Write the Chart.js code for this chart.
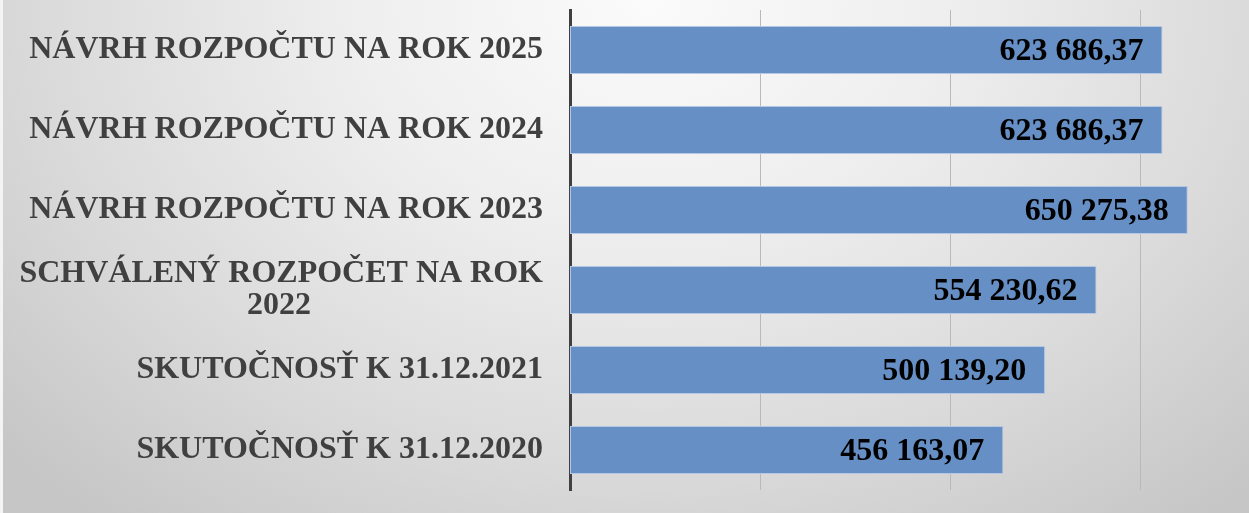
<!DOCTYPE html>
<html>
<head>
<meta charset="utf-8">
<script src="https://cdn.jsdelivr.net/npm/chart.js@4/dist/chart.umd.min.js"></script>
<style>
  html, body { margin: 0; padding: 0; }
  body {
    width: 1249px; height: 513px; overflow: hidden;
    background: radial-gradient(ellipse 70% 130% at 52% 0%, #fbfbfb 0%, #eeeeee 35%, #dadada 70%, #c6c6c6 100%);
  }
  #wrap { position: relative; width: 1249px; height: 513px; }
  #wrap::before { content: ''; position: absolute; left: 0; top: 0; width: 3px; height: 513px; background: #f4f4f4; }
  canvas { display: block; }
</style>
</head>
<body>
<div id="wrap"><canvas id="rozpocet" width="1249" height="513"></canvas></div>
<script>
const kategorie = [
    'NÁVRH ROZPOČTU NA ROK 2025',
    'NÁVRH ROZPOČTU NA ROK 2024',
    'NÁVRH ROZPOČTU NA ROK 2023',
    ['SCHVÁLENÝ ROZPOČET NA ROK', '2022' + ' '.repeat(29)],
    'SKUTOČNOSŤ K 31.12.2021',
    'SKUTOČNOSŤ K 31.12.2020'
];
const hodnoty = [623686.37, 623686.37, 650275.38, 554230.62, 500139.20, 456163.07];
const mriezka = [200000, 400000, 600000];

function formatuj(v) {
    const [cele, des] = v.toFixed(2).split('.');
    return cele.replace(/\B(?=(\d{3})+(?!\d))/g, ' ') + ',' + des;
}

// popisky hodnot na konci stlpcov
const popiskyPlugin = {
    id: 'popisky',
    afterDatasetsDraw(chart) {
        const ctx = chart.ctx;
        const meta = chart.getDatasetMeta(0);
        ctx.save();
        ctx.font = 'bold 32px "Liberation Serif", "Times New Roman", serif';
        ctx.fillStyle = '#000';
        ctx.textAlign = 'right';
        ctx.textBaseline = 'middle';
        meta.data.forEach((bar, i) => {
            ctx.fillText(formatuj(hodnoty[i]), bar.x - 19, bar.y + 2);
        });
        ctx.restore();
    }
};

const ctx = document.getElementById('rozpocet').getContext('2d');
new Chart(ctx, {
    type: 'bar',
    data: {
        labels: kategorie,
        datasets: [{
            data: hodnoty,
            backgroundColor: '#6690c5',
            borderColor: '#b4c8e6',
            borderWidth: 1,
            borderSkipped: false,
            categoryPercentage: 1,
            barPercentage: 0.6
        }]
    },
    options: {
        indexAxis: 'y',
        responsive: false,
        animation: false,
        devicePixelRatio: 1,
        layout: { padding: { top: 10, bottom: 23, right: 14, left: 0 } },
        plugins: { legend: { display: false }, tooltip: { enabled: false } },
        scales: {
            x: {
                min: 0,
                max: 700000,
                afterBuildTicks(axis) { axis.ticks = mriezka.map(v => ({ value: v })); },
                afterFit(axis) { axis.height = 0; axis.paddingLeft = 0; axis.paddingRight = 0; },
                ticks: { display: false },
                border: { display: false },
                grid: { drawTicks: false, lineWidth: 1, color: '#b9b9b9' }
            },
            y: {
                afterFit(axis) { axis.width = 570; axis.paddingTop = 0; axis.paddingBottom = 0; },
                border: { display: true, color: '#404040', width: 3 },
                grid: { display: false, drawTicks: false },
                ticks: {
                    padding: 27,
                    color: '#404040',
                    font: { family: '"Liberation Serif", "Times New Roman", serif', size: 32, weight: 'bold', lineHeight: 1.0 }
                }
            }
        }
    },
    plugins: [popiskyPlugin]
});
</script>
</body>
</html>
